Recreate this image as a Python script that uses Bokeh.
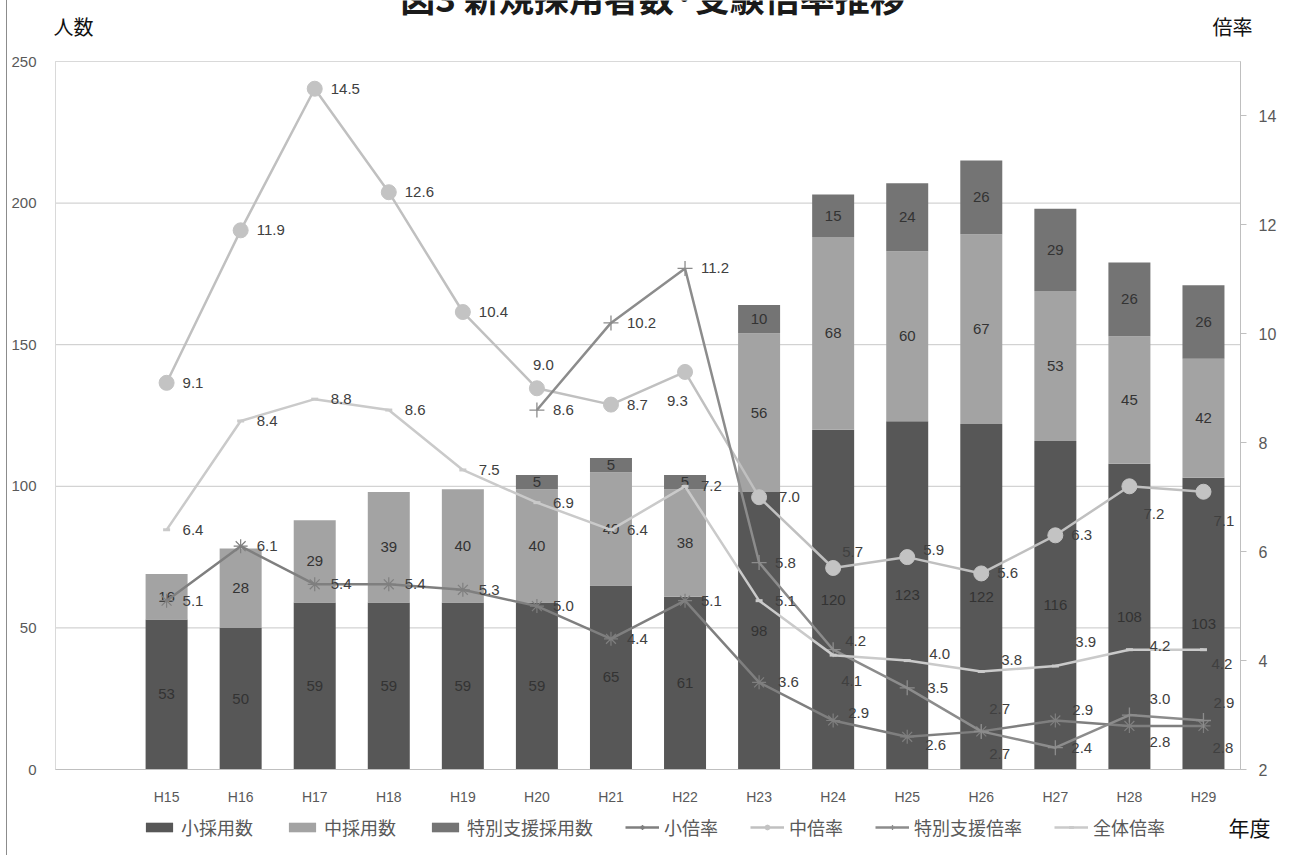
import numpy as np
from bokeh.plotting import figure
from bokeh.models import (Range1d, LinearAxis, FixedTicker, Legend, LegendItem,
                          Label, ColumnDataSource)
from bokeh.core.properties import value
from bokeh.embed import file_html
from bokeh.resources import INLINE

# ---- data -------------------------------------------------------------
years = ["H15", "H16", "H17", "H18", "H19", "H20", "H21", "H22",
         "H23", "H24", "H25", "H26", "H27", "H28", "H29"]
elem_hired = [53, 50, 59, 59, 59, 59, 65, 61, 98, 120, 123, 122, 116, 108, 103]
jhs_hired = [16, 28, 29, 39, 40, 40, 40, 38, 56, 68, 60, 67, 53, 45, 42]
sped_hired = [0, 0, 0, 0, 0, 5, 5, 5, 10, 15, 24, 26, 29, 26, 26]
elem_ratio = [5.1, 6.1, 5.4, 5.4, 5.3, 5.0, 4.4, 5.1, 3.6, 2.9, 2.6, 2.7, 2.9, 2.8, 2.8]
jhs_ratio = [9.1, 11.9, 14.5, 12.6, 10.4, 9.0, 8.7, 9.3, 7.0, 5.7, 5.9, 5.6, 6.3, 7.2, 7.1]
sped_ratio = [None, None, None, None, None, 8.6, 10.2, 11.2, 5.8, 4.2, 3.5, 2.7, 2.4, 3.0, 2.9]
total_ratio = [6.4, 8.4, 8.8, 8.6, 7.5, 6.9, 6.4, 7.2, 5.1, 4.1, 4.0, 3.8, 3.9, 4.2, 4.2]
count_ticks = [0, 50, 100, 150, 200, 250]
ratio_ticks = [2, 4, 6, 8, 10, 12, 14]

# ---- layout -----------------------------------------------------------
# The canvas is one big frame; the plot area sits inside it and the axes are
# pinned to its edges, so titles and legend can live anywhere on the canvas.
W, H = 1287, 855          # page has a 6px margin + 1px rule on the left
SHIFT = 7
PL, PR, PT, PB = 55 - SHIFT, 1240 - SHIFT, 61, 769   # plot area in canvas px
NSLOT = 16                # one empty slot in front of H15
CMAX = 250
RMIN, RMAX = 2, 15
JP = "Noto Sans CJK JP"
NUM = "Liberation Sans"

sx_ = (PR - PL) / NSLOT          # px per slot
sc_ = (PB - PT) / CMAX           # px per person
sr_ = (PB - PT) / (RMAX - RMIN)  # px per ratio unit
x_range = Range1d(-PL / sx_, NSLOT + (W - PR) / sx_)
y_range = Range1d(-(H - PB) / sc_, CMAX + PT / sc_)
r_range = Range1d(RMIN - (H - PB) / sr_, RMAX + PT / sr_)


def cx(px):
    """page x pixel -> slot coordinate"""
    return (px - SHIFT - PL) / sx_


def cy(py):
    """page y pixel -> count coordinate"""
    return (PB - py) / sc_


xs = np.arange(len(years)) + 1.5

p = figure(width=W, height=H, x_range=x_range, y_range=y_range,
           output_backend="svg", toolbar_location=None,
           min_border_left=0, min_border_right=0, min_border_top=0, min_border_bottom=0)
p.styles = {"margin-left": "6px", "border-left": "1px solid #8c8c8c"}
p.background_fill_color = "white"
p.border_fill_color = "white"
p.outline_line_color = None
p.extra_y_ranges = {"rate": r_range}
p.xgrid.visible = False
p.ygrid.visible = False

# gridlines and plot-area border
p.segment(x0=0, x1=NSLOT, y0=count_ticks[1:], y1=count_ticks[1:],
          line_color="#c8c8c8", line_width=1)
p.quad(left=0, right=NSLOT, bottom=0, top=CMAX, fill_color=None,
       line_color="#d9d9d9", line_width=1)

# left (count) axis
la = p.yaxis[0]
la.fixed_location = 0
la.bounds = (0, CMAX)
la.ticker = FixedTicker(ticks=count_ticks)
la.axis_line_color = None
la.major_tick_line_color = None
la.major_tick_out = 0
la.major_tick_in = 0
la.minor_tick_line_color = None
la.major_label_standoff = 19
la.major_label_text_font = NUM
la.major_label_text_font_size = "15px"
la.major_label_text_color = "#595959"

# bottom axis
xa = p.xaxis[0]
xa.fixed_location = 0
xa.bounds = (0, NSLOT)
xa.ticker = FixedTicker(ticks=list(xs))
xa.major_label_overrides = {float(x): y for x, y in zip(xs, years)}
xa.axis_line_color = "#bfbfbf"
xa.major_tick_line_color = None
xa.major_tick_out = 0
xa.major_tick_in = 0
xa.minor_tick_line_color = None
xa.major_label_standoff = 19
xa.major_label_text_font = NUM
xa.major_label_text_font_size = "14px"
xa.major_label_text_color = "#595959"

# right (ratio) axis
ra = LinearAxis(y_range_name="rate", ticker=FixedTicker(ticks=ratio_ticks))
ra.fixed_location = NSLOT
ra.bounds = (RMIN, RMAX)
ra.axis_line_color = "#bfbfbf"
ra.major_tick_line_color = "#bfbfbf"
ra.major_tick_out = 6
ra.major_tick_in = 0
ra.minor_tick_line_color = None
ra.major_label_standoff = 12
ra.major_label_text_font = NUM
ra.major_label_text_font_size = "16px"
ra.major_label_text_color = "#595959"
p.add_layout(ra, "right")

# ---- stacked bars -----------------------------------------------------
BW = 0.567
e = np.array(elem_hired, float)
j = np.array(jhs_hired, float)
s = np.array(sped_hired, float)
r_e = p.vbar(x=xs, width=BW, bottom=0, top=e, fill_color="#575757", line_color=None)
r_j = p.vbar(x=xs, width=BW, bottom=e, top=e + j, fill_color="#a3a3a3", line_color=None)
r_s = p.vbar(x=xs, width=BW, bottom=e + j, top=e + j + s, fill_color="#747474", line_color=None)

blab = {"x": [], "y": [], "t": []}
for base, vals in ((np.zeros_like(e), e), (e, j), (e + j, s)):
    for x, b, v in zip(xs, base, vals):
        if v > 0:
            blab["x"].append(x)
            blab["y"].append(b + v / 2)
            blab["t"].append(str(int(v)))
p.text(x="x", y="y", text="t", source=ColumnDataSource(blab),
       text_font=value(NUM), text_font_size="15px", text_color="#333333",
       text_align="center", text_baseline="middle")

# ---- ratio lines ------------------------------------------------------
def nan_list(vals):
    return [np.nan if v is None else v for v in vals]


r_el = p.line(xs, nan_list(elem_ratio), y_range_name="rate", line_color="#7f7f7f", line_width=2.5)
r_em = p.scatter(xs, nan_list(elem_ratio), y_range_name="rate", marker="asterisk", size=14,
                 line_color="#7f7f7f", line_width=1.2)
r_jl = p.line(xs, jhs_ratio, y_range_name="rate", line_color="#c0c0c0", line_width=2.5)
r_jm = p.scatter(xs, jhs_ratio, y_range_name="rate", marker="circle", size=15,
                 fill_color="#c3c3c3", line_color="#c3c3c3")
r_sl = p.line(xs, nan_list(sped_ratio), y_range_name="rate", line_color="#8c8c8c", line_width=2.5)
r_sm = p.scatter(xs, nan_list(sped_ratio), y_range_name="rate", marker="cross", size=15,
                 line_color="#8c8c8c", line_width=1.3)
r_tl = p.line(xs, total_ratio, y_range_name="rate", line_color="#cacaca", line_width=2.5)
r_tm = p.scatter(xs, total_ratio, y_range_name="rate", marker="dash", size=7,
                 line_color="#cacaca", line_width=3)

# label offsets (px) for each point; default sits to the right of the marker
D = (16, 0)
elem_off = [D] * 8 + [(19, 0), (15, -7), (18, 8), (8, 23), (17, -10), (20, 16), (9, 22)]
jhs_off = [D] * 5 + [(-4, -23), D, (-18, 29), (20, 0), (9, -16), (16, -7), D, D, (14, 28), (10, 29)]
sped_off = [D] * 9 + [(12, -9), (20, 0), (8, -22), D, (20, -16), (10, -17)]
total_off = [D] * 9 + [(8, 26), (22, -7), (20, -11), (20, -24), (20, -4), (8, 14)]

for vals, offs in ((elem_ratio, elem_off), (jhs_ratio, jhs_off),
                   (sped_ratio, sped_off), (total_ratio, total_off)):
    src = {"x": [], "y": [], "t": [], "dx": [], "dy": []}
    for x, v, (ox, oy) in zip(xs, vals, offs):
        if v is None:
            continue
        src["x"].append(x)
        src["y"].append(v)
        src["t"].append(f"{v:.1f}")
        src["dx"].append(ox)
        src["dy"].append(oy)
    p.text(x="x", y="y", text="t", x_offset="dx", y_offset="dy",
           source=ColumnDataSource(src), y_range_name="rate",
           text_font=value(NUM), text_font_size="15px", text_color="#404040",
           text_align="left", text_baseline="middle")

# ---- legend -----------------------------------------------------------
legend = Legend(items=[
    LegendItem(label="小採用数", renderers=[r_e]),
    LegendItem(label="中採用数", renderers=[r_j]),
    LegendItem(label="特別支援採用数", renderers=[r_s]),
    LegendItem(label="小倍率", renderers=[r_el, r_em]),
    LegendItem(label="中倍率", renderers=[r_jl, r_jm]),
    LegendItem(label="特別支援倍率", renderers=[r_sl, r_sm]),
    LegendItem(label="全体倍率", renderers=[r_tl, r_tm]),
], orientation="horizontal", location=(142 - SHIFT, H - 840),
    glyph_width=34, glyph_height=12, label_standoff=5, spacing=32,
    padding=0, margin=0, border_line_color=None, background_fill_alpha=0,
    label_text_font=JP, label_text_font_size="18px", label_text_color="#595959",
    label_height=20)
p.add_layout(legend, "center")

# ---- titles -----------------------------------------------------------
# the chart title runs off the top edge of the page
p.add_layout(Label(x=cx(656), y=cy(-4), text="図3  新規採用者数·受験倍率推移",
                   text_font=JP, text_font_size="35px", text_font_style="bold",
                   text_color="#1a1a1a", text_align="center", text_baseline="alphabetic"))
p.add_layout(Label(x=cx(53), y=cy(26), text="人数", text_font=JP, text_font_size="20px",
                   text_color="#111111", text_align="left", text_baseline="middle"))
p.add_layout(Label(x=cx(1212), y=cy(26), text="倍率", text_font=JP, text_font_size="20px",
                   text_color="#111111", text_align="left", text_baseline="middle"))
p.add_layout(Label(x=cx(1228), y=cy(826), text="年度", text_font=JP, text_font_size="21px",
                   text_color="#111111", text_align="left", text_baseline="middle"))

open("out.html", "w").write(file_html(p, INLINE))
